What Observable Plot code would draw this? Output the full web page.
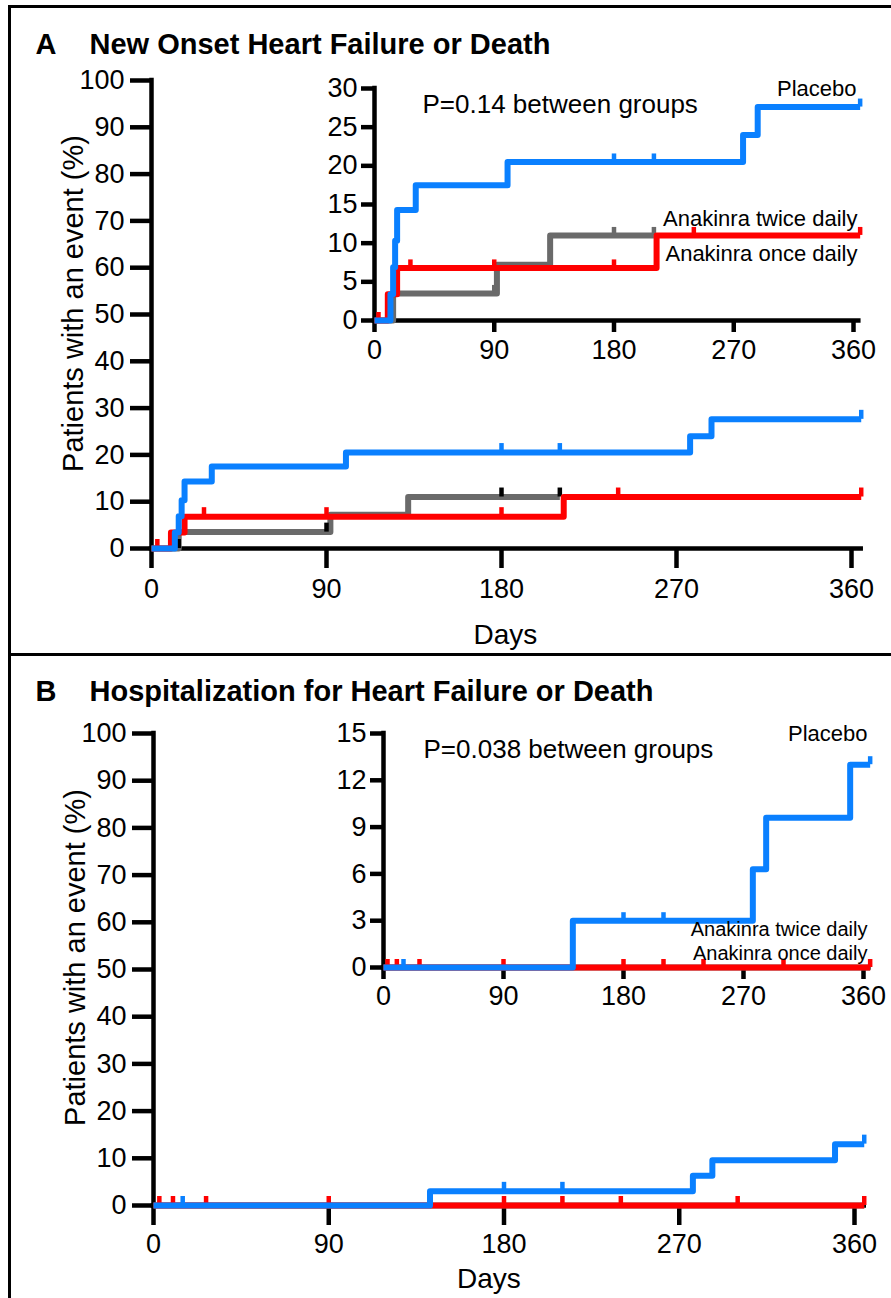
<!DOCTYPE html>
<html>
<head>
<meta charset="utf-8">
<script src="https://cdn.jsdelivr.net/npm/d3@7"></script>
<script src="https://cdn.jsdelivr.net/npm/@observablehq/plot@0.6"></script>
<style>
html, body { margin: 0; padding: 0; background: #fff; }
#fig { position: relative; width: 891px; height: 1298px; overflow: hidden; background: #fff; }
#fig svg { position: absolute; left: 0; top: 0; }
.rule { position: absolute; background: #000; }
</style>
</head>
<body>
<div id="fig">
  <div class="rule" style="left:8px;top:5px;width:883px;height:3px"></div>
  <div class="rule" style="left:8px;top:5px;width:3px;height:1293px"></div>
  <div class="rule" style="left:8px;top:653px;width:883px;height:3px"></div>
</div>
<script>
// ---------------- Data ----------------
const seriesNames = ["Anakinra twice daily", "Anakinra once daily", "Placebo"];
const seriesColors = ["#6a6a6a", "#ff0000", "#0a80ff"];

const xTicks = [0, 90, 180, 270, 360];
const yTicksMain = [0, 10, 20, 30, 40, 50, 60, 70, 80, 90, 100];
const yTicksInsetA = [0, 5, 10, 15, 20, 25, 30];
const yTicksInsetB = [0, 3, 6, 9, 12, 15];

const panelTitles = ["New Onset Heart Failure or Death", "Hospitalization for Heart Failure or Death"];
const panelLetters = ["A", "B"];
const pTexts = ["P=0.14 between groups", "P=0.038 between groups"];
const yLabel = "Patients with an event (%)";
const xLabel = "Days";

// Panel A: new onset heart failure or death
const A_twiceDays = [0, 14, 92, 132, 210];
const A_twicePct  = [0, 3.5, 7.2, 11.0, 11.0];
const A_twiceCensDays = [14, 90, 180, 210];
const A_twiceCensPct  = [0, 3.5, 11.0, 11.0];

const A_onceDays = [0, 10, 17, 212, 365];
const A_oncePct  = [0, 3.4, 6.8, 11.0, 11.0];
const A_onceCensDays = [3, 27, 90, 180, 240, 365];
const A_onceCensPct  = [0, 6.8, 6.8, 6.8, 11.0, 11.0];

const A_placeboDays = [0, 12, 14, 15.5, 17, 31, 100, 277, 288, 365];
const A_placeboPct  = [0, 3.4, 6.9, 10.3, 14.3, 17.5, 20.5, 24.0, 27.6, 27.6];
const A_placeboCensDays = [180, 210, 365];
const A_placeboCensPct  = [20.5, 20.5, 27.6];

// Panel B: hospitalization for heart failure or death
const B_twiceDays = [0, 365];
const B_twicePct  = [0, 0];

const B_onceDays = [0, 365];
const B_oncePct  = [0, 0];
const B_onceCensDays = [3, 10, 27, 90, 180, 210, 240, 300, 365];
const B_onceCensPct  = [0, 0, 0, 0, 0, 0, 0, 0, 0];

const B_placeboDays = [0, 142, 277, 287, 350, 365];
const B_placeboPct  = [0, 3.0, 6.3, 9.6, 13.0, 13.0];
const B_placeboCensDays = [15, 180, 210, 365];
const B_placeboCensPct  = [0, 3.0, 3.0, 13.0];

// ---------------- Drawing ----------------
const W = 891, H = 1298;
const FONT = '"Liberation Sans", Arial, Helvetica, sans-serif';
const zip = (days, pct) => days.map((d, i) => ({day: d, pct: pct[i]}));

function km(cfg) {
  const pxPerUnit = (cfg.yZero - cfg.yTop) / cfg.yMax;
  const delta = cfg.censorLen / pxPerUnit;
  const marks = [];
  marks.push(Plot.ruleY([0], {x1: () => 0, x2: () => cfg.xAxisEnd, stroke: "#000", strokeWidth: 4.5, strokeLinecap: "square"}));
  marks.push(Plot.ruleX([0], {y1: () => 0, y2: () => cfg.yMax, stroke: "#000", strokeWidth: 4.5, strokeLinecap: "square"}));
  marks.push(Plot.axisX({ticks: xTicks, tickSize: cfg.tickSizeX, tickPadding: cfg.padX, strokeWidth: 4.5, fontSize: cfg.fontSize, label: null, tickFormat: d => String(d)}));
  marks.push(Plot.axisY({ticks: cfg.yTicks, tickSize: cfg.tickSizeY, tickPadding: cfg.padY, strokeWidth: 4.5, fontSize: cfg.fontSize, label: null, tickFormat: d => String(d)}));
  for (const s of cfg.series) {
    marks.push(Plot.line(s.line, {x: "day", y: "pct", curve: "step-after", stroke: s.color, strokeWidth: cfg.lineWidth, strokeLinejoin: "round", strokeLinecap: "butt"}));
    if (s.cens) marks.push(Plot.ruleX(s.cens, {x: "day", y1: "pct", y2: d => d.pct + delta, stroke: s.censColor, strokeWidth: 4.5}));
  }
  for (const t of (cfg.texts || [])) {
    marks.push(Plot.text([t.text], {text: d => d, frameAnchor: t.frameAnchor, dx: t.dx, dy: t.dy,
      textAnchor: t.textAnchor || "start", lineAnchor: t.lineAnchor || "bottom", fontSize: t.fontSize,
      fontWeight: t.fontWeight || "normal", rotate: t.rotate || 0, fill: "#000"}));
  }
  const x366 = cfg.xLeft + 366 * cfg.pxPerDay;
  return Plot.plot({
    width: W, height: H,
    marginLeft: cfg.xLeft, marginRight: W - x366,
    marginTop: cfg.yTop, marginBottom: H - cfg.yZero,
    x: {domain: [0, 366]},
    y: {domain: [0, cfg.yMax]},
    style: {background: "transparent", fontFamily: FONT, fontSize: "27px", color: "#000", overflow: "visible"},
    marks
  });
}

const fig = document.getElementById("fig");

// Panel A main
fig.appendChild(km({
  xLeft: 151, pxPerDay: 700 / 360, yTop: 80, yZero: 548, yMax: 100, yTicks: yTicksMain, xAxisEnd: 365,
  tickSizeX: 20, tickSizeY: 21, padX: 10, padY: 6, fontSize: 27, lineWidth: 6, censorLen: 9,
  series: [
    {line: zip(A_twiceDays, A_twicePct), cens: zip(A_twiceCensDays, A_twiceCensPct), color: seriesColors[0], censColor: "#000"},
    {line: zip(A_onceDays, A_oncePct), cens: zip(A_onceCensDays, A_onceCensPct), color: seriesColors[1], censColor: seriesColors[1]},
    {line: zip(A_placeboDays, A_placeboPct), cens: zip(A_placeboCensDays, A_placeboCensPct), color: seriesColors[2], censColor: seriesColors[2]}
  ],
  texts: [
    {text: panelLetters[0], frameAnchor: "top-left", dx: -116, dy: -27, fontSize: 29, fontWeight: "bold"},
    {text: panelTitles[0], frameAnchor: "top-left", dx: -62, dy: -27, fontSize: 29, fontWeight: "bold"},
    {text: yLabel, frameAnchor: "left", dx: -78, dy: -11, rotate: -90, textAnchor: "middle", lineAnchor: "middle", fontSize: 29},
    {text: xLabel, frameAnchor: "bottom", dx: -2, dy: 95, textAnchor: "middle", fontSize: 28}
  ]
}));

// Panel A inset
fig.appendChild(km({
  xLeft: 374, pxPerDay: 479 / 360, yTop: 88, yZero: 320, yMax: 30, yTicks: yTicksInsetA, xAxisEnd: 364,
  tickSizeX: 12, tickSizeY: 13, padX: 7, padY: 4, fontSize: 27, lineWidth: 6, censorLen: 8,
  series: [
    {line: zip(A_twiceDays, A_twicePct), cens: zip(A_twiceCensDays, A_twiceCensPct), color: seriesColors[0], censColor: seriesColors[0]},
    {line: zip(A_onceDays, A_oncePct), cens: zip(A_onceCensDays, A_onceCensPct), color: seriesColors[1], censColor: seriesColors[1]},
    {line: zip(A_placeboDays, A_placeboPct), cens: zip(A_placeboCensDays, A_placeboCensPct), color: seriesColors[2], censColor: seriesColors[2]}
  ],
  texts: [
    {text: pTexts[0], frameAnchor: "top-left", dx: 48, dy: 24, fontSize: 26},
    {text: seriesNames[2], frameAnchor: "top-right", dx: -5, dy: 7, textAnchor: "end", fontSize: 22},
    {text: seriesNames[0], frameAnchor: "top-right", dx: -4, dy: 137, textAnchor: "end", fontSize: 22},
    {text: seriesNames[1], frameAnchor: "top-right", dx: -4, dy: 172, textAnchor: "end", fontSize: 22}
  ]
}));

// Panel B main
fig.appendChild(km({
  xLeft: 153, pxPerDay: 701 / 360, yTop: 733, yZero: 1205, yMax: 100, yTicks: yTicksMain, xAxisEnd: 365,
  tickSizeX: 20, tickSizeY: 21, padX: 8, padY: 6, fontSize: 27, lineWidth: 6, censorLen: 9,
  series: [
    {line: zip(B_twiceDays, B_twicePct), cens: null, color: seriesColors[0], censColor: "#000"},
    {line: zip(B_onceDays, B_oncePct), cens: zip(B_onceCensDays, B_onceCensPct), color: seriesColors[1], censColor: seriesColors[1]},
    {line: zip(B_placeboDays, B_placeboPct), cens: zip(B_placeboCensDays, B_placeboCensPct), color: seriesColors[2], censColor: seriesColors[2]}
  ],
  texts: [
    {text: panelLetters[1], frameAnchor: "top-left", dx: -118, dy: -33, fontSize: 29, fontWeight: "bold"},
    {text: panelTitles[1], frameAnchor: "top-left", dx: -64, dy: -33, fontSize: 29, fontWeight: "bold"},
    {text: yLabel, frameAnchor: "left", dx: -78, dy: -12, rotate: -90, textAnchor: "middle", lineAnchor: "middle", fontSize: 29},
    {text: xLabel, frameAnchor: "bottom", dx: -21, dy: 82, textAnchor: "middle", fontSize: 28}
  ]
}));

// Panel B inset
fig.appendChild(km({
  xLeft: 383, pxPerDay: 480 / 360, yTop: 733, yZero: 967, yMax: 15, yTicks: yTicksInsetB, xAxisEnd: 364,
  tickSizeX: 12, tickSizeY: 13, padX: 6, padY: 4, fontSize: 27, lineWidth: 6, censorLen: 8,
  series: [
    {line: zip(B_twiceDays, B_twicePct), cens: null, color: seriesColors[0], censColor: seriesColors[0]},
    {line: zip(B_onceDays, B_oncePct), cens: zip(B_onceCensDays, B_onceCensPct), color: seriesColors[1], censColor: seriesColors[1]},
    {line: zip(B_placeboDays, B_placeboPct), cens: zip(B_placeboCensDays, B_placeboCensPct), color: seriesColors[2], censColor: seriesColors[2]}
  ],
  texts: [
    {text: pTexts[1], frameAnchor: "top-left", dx: 40, dy: 24, fontSize: 26},
    {text: seriesNames[2], frameAnchor: "top-right", dx: -4, dy: 7, textAnchor: "end", fontSize: 22},
    {text: seriesNames[0], frameAnchor: "top-right", dx: -4, dy: 202, textAnchor: "end", fontSize: 20},
    {text: seriesNames[1], frameAnchor: "top-right", dx: -4, dy: 226, textAnchor: "end", fontSize: 20}
  ]
}));
</script>
</body>
</html>
